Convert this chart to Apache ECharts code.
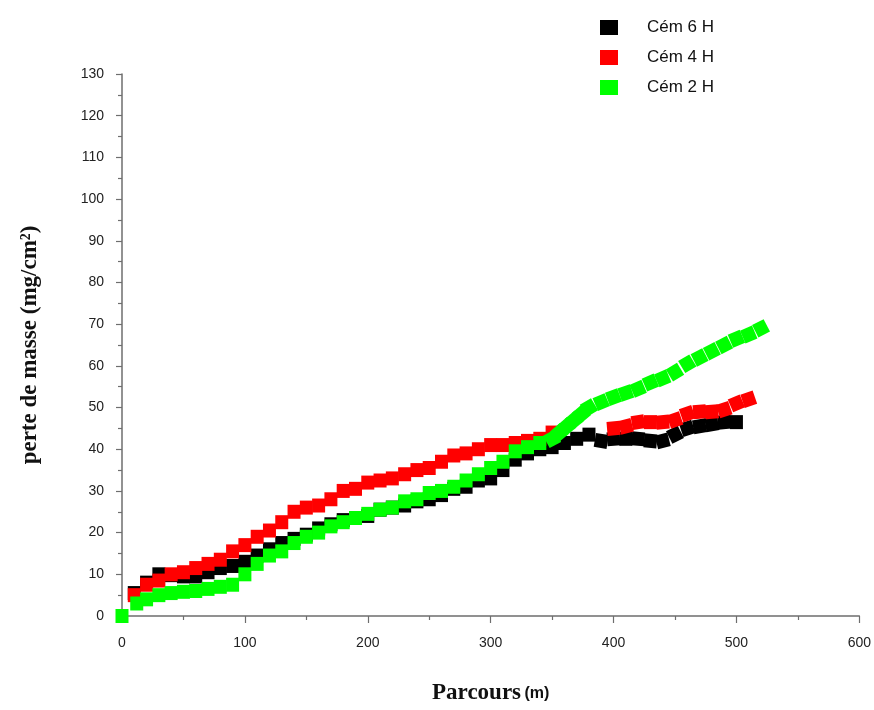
<!DOCTYPE html>
<html>
<head>
<meta charset="utf-8">
<script src="https://cdn.jsdelivr.net/npm/echarts@6/dist/echarts.min.js"></script>
<style>
  html, body { margin: 0; padding: 0; background: #fff; }
  #chart { width: 874px; height: 710px; }
</style>
</head>
<body>
<div id="chart"></div>
<script>
// Distance travelled (m) and mass loss (mg/cm²) for each cementation time
const seriesNames = ['Cém 6 H', 'Cém 4 H', 'Cém 2 H'];
const seriesColors = ['#000000', '#ff0000', '#00ff00'];

const parcours6h = [10, 20, 30, 40, 50, 60, 70, 80, 90, 100, 110, 120, 130, 140, 150, 160, 170, 180, 190, 200,
  210, 220, 230, 240, 250, 260, 270, 280, 290, 300, 310, 320, 330, 340, 350, 360, 370, 380,
  390, 400, 410, 420, 430, 440, 450, 460, 470, 480, 490, 500];
const perte6h = [5.5, 8, 10, 9.8, 9.5, 9.5, 10.5, 11.5, 12, 13, 14.5, 16, 17.5, 18.5, 19.5, 21, 22, 23, 23.5, 24,
  25.5, 26, 26.5, 27.5, 28, 29, 30.5, 31, 32.5, 33, 35, 37.5, 39, 40, 40.5, 41.5, 42.5, 43.5,
  42, 42.5, 42.5, 42.5, 42, 42, 43.5, 45, 45.5, 46, 46.5, 46.5];

const parcours4h = [10, 20, 30, 40, 50, 60, 70, 80, 90, 100, 110, 120, 130, 140, 150, 160, 170, 180, 190, 200,
  210, 220, 230, 240, 250, 260, 270, 280, 290, 300, 310, 320, 330, 340, 350,
  400, 410, 420, 430, 440, 450, 460, 470, 480, 490, 500, 510];
const perte4h = [5, 7.5, 8.5, 10, 10.5, 11.5, 12.5, 13.5, 15.5, 17, 19, 20.5, 22.5, 25, 26, 26.5, 28, 30, 30.5, 32,
  32.5, 33, 34, 35, 35.5, 37, 38.5, 39, 40, 41, 41, 41.5, 42, 42.5, 44,
  45, 45.5, 46.5, 46.5, 46.5, 47, 48.5, 49, 49, 49.5, 51, 52];

const parcours2h = [0, 12, 20, 30, 40, 50, 60, 70, 80, 90, 100, 110, 120, 130, 140, 150, 160, 170, 180, 190, 200,
  210, 220, 230, 240, 250, 260, 270, 280, 290, 300, 310, 320, 330, 340, 350, 356, 362, 368, 374, 380,
  390, 400, 410, 420, 430, 440, 450, 460, 470, 480, 490, 500, 510, 520];
const perte2h = [0, 3, 4, 5, 5.5, 5.8, 6, 6.5, 7, 7.5, 10, 12.5, 14.5, 15.5, 17.5, 19, 20, 21.5, 22.5, 23.5, 24.5,
  25.5, 26, 27.5, 28, 29.5, 30, 31, 32.5, 34, 35.5, 37, 39.5, 40.5, 41.5, 42.5, 44, 45.5, 47, 48.5, 50,
  51.3, 52.5, 53.5, 54.5, 56, 57, 58.5, 60.5, 62, 63.5, 65, 66.5, 67.5, 69];

const xTicks = { min: 0, max: 600, interval: 100 };
const yTicks = { min: 0, max: 130, interval: 10 };

// Plot area in pixels
const gridBox = { left: 122, right: 9, top: 74, bottom: 87 };
const plotW = 874 - gridBox.left - gridBox.right;
const plotH = 710 - gridBox.top - gridBox.bottom;

// Beyond this distance the square symbols follow the direction of the curve
const tiltFrom = [385, 385, 350];

function buildPoints(xs, ys, fromX) {
  const kx = plotW / (xTicks.max - xTicks.min);
  const ky = plotH / (yTicks.max - yTicks.min);
  return xs.map((x, i) => {
    let rot = 0;
    if (x >= fromX) {
      const a = Math.max(0, i - 1);
      const b = Math.min(xs.length - 1, i + 1);
      const dx = (xs[b] - xs[a]) * kx;
      const dy = (ys[b] - ys[a]) * ky;
      rot = Math.atan2(dy, dx) * 180 / Math.PI;
    }
    return { value: [x, ys[i]], symbolRotate: rot };
  });
}

const chart = echarts.init(document.getElementById('chart'), null, { renderer: 'canvas' });

const axisGray = '#6e6e6e';
const labelStyle = { color: '#222', fontFamily: 'Liberation Sans, Arial, sans-serif', fontSize: 14 };

const seriesData = [
  buildPoints(parcours6h, perte6h, tiltFrom[0]),
  buildPoints(parcours4h, perte4h, tiltFrom[1]),
  buildPoints(parcours2h, perte2h, tiltFrom[2])
];

chart.setOption({
  animation: false,
  backgroundColor: '#ffffff',
  grid: Object.assign({ containLabel: false }, gridBox),
  legend: {
    orient: 'vertical',
    left: 595,
    top: 14,
    itemWidth: 18,
    itemHeight: 15,
    itemGap: 13,
    icon: 'rect',
    data: seriesNames,
    textStyle: {
      fontFamily: 'Liberation Sans, Arial, sans-serif',
      fontSize: 17,
      color: '#111',
      padding: [0, 0, 0, 24]
    }
  },
  xAxis: {
    type: 'value',
    min: xTicks.min,
    max: xTicks.max,
    interval: xTicks.interval,
    name: '{a|Parcours} {b|(m)}',
    nameLocation: 'middle',
    nameGap: 66,
    nameTextStyle: {
      rich: {
        a: { fontFamily: 'Liberation Serif, DejaVu Serif, serif', fontWeight: 'bold', fontSize: 23, color: '#111' },
        b: { fontFamily: 'Liberation Sans, Arial, sans-serif', fontWeight: 'bold', fontSize: 16, color: '#111' }
      }
    },
    axisLine: { show: true, onZero: false, lineStyle: { color: axisGray, width: 1.5 } },
    axisTick: { show: true, inside: false, length: 7, lineStyle: { color: axisGray, width: 1.2 } },
    minorTick: { show: true, splitNumber: 2, length: 4, lineStyle: { color: axisGray, width: 1.2 } },
    splitLine: { show: false },
    axisLabel: Object.assign({ margin: 20 }, labelStyle)
  },
  yAxis: {
    type: 'value',
    min: yTicks.min,
    max: yTicks.max,
    interval: yTicks.interval,
    name: 'perte de masse (mg/cm²)',
    nameLocation: 'middle',
    nameGap: 80,
    nameTextStyle: {
      fontFamily: 'Liberation Serif, DejaVu Serif, serif',
      fontWeight: 'bold',
      fontSize: 23,
      color: '#111'
    },
    axisLine: { show: true, onZero: false, lineStyle: { color: axisGray, width: 1.5 } },
    axisTick: { show: true, inside: false, length: 6, lineStyle: { color: axisGray, width: 1.2 } },
    minorTick: { show: true, splitNumber: 2, length: 4, lineStyle: { color: axisGray, width: 1.2 } },
    splitLine: { show: false },
    axisLabel: Object.assign({ margin: 18 }, labelStyle)
  },
  series: seriesNames.map((name, i) => ({
    name: name,
    type: 'scatter',
    symbol: 'rect',
    symbolSize: [13, 14],
    data: seriesData[i],
    itemStyle: { color: seriesColors[i], opacity: 1 },
    z: 3 + i
  }))
});
</script>
</body>
</html>
